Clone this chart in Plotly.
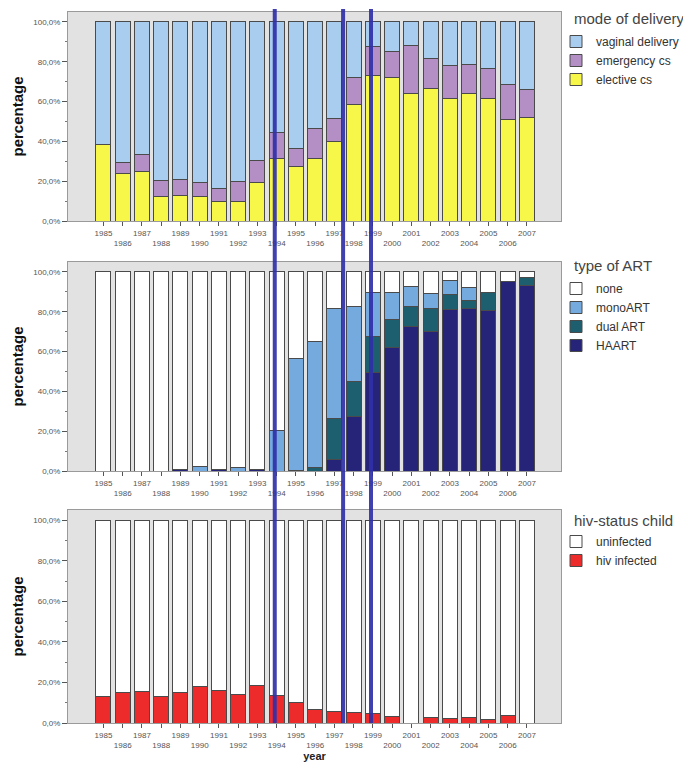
import plotly.graph_objects as go

years = list(range(1985, 2008))

# mode of delivery (%)
elective_cs = [38.6, 23.8, 25.0, 12.2, 12.6, 12.2, 9.7, 9.7, 19.5, 31.2, 27.2, 31.2,
               39.8, 58.7, 73.2, 72.1, 63.9, 66.4, 61.7, 64.3, 61.7, 50.8, 52.0]
emergency_cs = [0.0, 5.4, 8.6, 8.3, 8.5, 6.9, 6.7, 9.9, 11.0, 13.3, 9.0, 15.1,
                11.5, 13.4, 14.6, 13.1, 24.4, 15.0, 16.3, 14.4, 15.0, 17.8, 13.9]
vaginal_delivery = [round(100 - a - b, 1) for a, b in zip(elective_cs, emergency_cs)]

# type of ART (%)
haart = [0, 0, 0, 0, 0.6, 0, 1.0, 0, 1.0, 0, 0, 0,
         5.9, 27.6, 49.6, 61.8, 72.8, 70.3, 81.2, 81.8, 80.7, 95.3, 93.3]
dual_art = [0, 0, 0, 0, 0, 0, 0, 0, 0, 0, 0.5, 2.0,
            20.7, 17.4, 18.1, 14.3, 9.9, 11.5, 7.5, 3.9, 8.9, 0, 3.7]
mono_art = [0, 0, 0, 0, 0, 2.5, 0, 2.0, 0, 20.5, 56.1, 63.0,
            54.9, 37.7, 21.9, 13.5, 10.1, 7.6, 7.1, 6.4, 0, 0, 0]
no_art = [round(100 - a - b - c, 1) for a, b, c in zip(haart, dual_art, mono_art)]

# hiv-status child (%)
hiv_infected = [12.9, 14.9, 15.3, 13.2, 15.0, 18.2, 15.8, 14.0, 18.5, 13.7, 10.2, 6.9,
                5.9, 5.4, 4.6, 3.3, 0.0, 2.6, 2.0, 2.5, 1.6, 3.5, 0.0]
uninfected = [round(100 - a, 1) for a in hiv_infected]

marker_years = [1993.9, 1997.45, 1998.9]
legend_titles = ["mode of delivery", "type of ART", "hiv-status child"]

# page body has an 8px margin: figure drawn at (8, 8)
OFF = 8
W, H = 691 - OFF, 771 - OFF
L, R = 68 - OFF, W - (561 - OFF)
PW = W - L - R
panels_px = [(12, 221), (262, 471), (510, 723)]  # reference top/bottom of gray plot areas
domains = [[1 - (b - OFF) / H, 1 - (t - OFF) / H] for t, b in panels_px]

def px_x(x):
    return (x - OFF - L) / PW

def px_y(y):
    return 1 - (y - OFF) / H

FONT = "Liberation Sans, Arial, sans-serif"
EDGE = "#4a4a4a"

fig = go.Figure()

def add_bar(name, vals, color, ax, leg):
    fig.add_trace(go.Bar(
        x=years, y=vals, name=name, width=0.78,
        marker=dict(color=color, line=dict(color=EDGE, width=1)),
        xaxis=ax[0], yaxis=ax[1], legend=leg,
        hovertemplate="%{x}: %{y:.1f}%<extra>" + name + "</extra>",
    ))

add_bar("elective cs", elective_cs, "#f7f74a", ("x", "y"), "legend")
add_bar("emergency cs", emergency_cs, "#b48fc6", ("x", "y"), "legend")
add_bar("vaginal delivery", vaginal_delivery, "#a8cdee", ("x", "y"), "legend")

add_bar("HAART", haart, "#252478", ("x2", "y2"), "legend2")
add_bar("dual ART", dual_art, "#1d5f6e", ("x2", "y2"), "legend2")
add_bar("monoART", mono_art, "#74aade", ("x2", "y2"), "legend2")
add_bar("none", no_art, "#ffffff", ("x2", "y2"), "legend2")

add_bar("hiv infected", hiv_infected, "#ee2b2b", ("x3", "y3"), "legend3")
add_bar("uninfected", uninfected, "#ffffff", ("x3", "y3"), "legend3")

ticktext = [str(y) if y % 2 == 1 else "<br>" + str(y) for y in years]

axis_common = dict(
    range=[1983.16, 2008.77], tickvals=years, ticktext=ticktext, tickangle=0,
    ticks="outside", ticklen=4, tickcolor="#555", tickwidth=1,
    tickfont=dict(family=FONT, size=8, color="#555"),
    showgrid=False, zeroline=False, showline=True, linecolor="#9a9a9a",
    linewidth=1, mirror=True, automargin=False,
)
yaxis_common = dict(
    range=[0, 105], tickvals=[0, 20, 40, 60, 80, 100],
    ticktext=["0,0%", "20,0%", "40,0%", "60,0%", "80,0%", "100,0%"],
    ticks="outside", ticklen=5, tickcolor="#555",
    minor=dict(ticks="outside", ticklen=2, dtick=10, tickcolor="#777"),
    tickfont=dict(family=FONT, size=8, color="#555"),
    showgrid=False, zeroline=False, showline=True, linecolor="#9a9a9a",
    linewidth=1, mirror=True, automargin=False,
    title=dict(text="<b>percentage</b>", font=dict(family=FONT, size=15, color="#111"), standoff=6),
)

layout = dict(
    width=W, height=H, template="none",
    margin=dict(l=L, r=R, t=0, b=0),
    paper_bgcolor="white", plot_bgcolor="#e2e2e2",
    barmode="stack", bargap=0.22,
    font=dict(family=FONT, color="#333"),
)
names = ["", "2", "3"]
for i, n in enumerate(names):
    xa = dict(axis_common, anchor="y" + n, domain=[0, 1])
    if n:
        xa["matches"] = "x"
    ya = dict(yaxis_common, anchor="x" + n, domain=domains[i])
    layout["xaxis" + n] = xa
    layout["yaxis" + n] = ya
layout["xaxis3"]["title"] = dict(text="<b>year</b>", font=dict(family=FONT, size=11, color="#222"), standoff=2)

legend_common = dict(
    x=px_x(556), xanchor="left", yanchor="top",
    bgcolor="rgba(0,0,0,0)", traceorder="reversed",
    font=dict(family=FONT, size=12, color="#333"),
    itemwidth=30, tracegroupgap=0,
)
legend_item_tops = [27, 274, 527]
title_centers = [18, 265, 520]
annotations = []
for n, top, tc, title in zip(["legend", "legend2", "legend3"], legend_item_tops, title_centers, legend_titles):
    layout[n] = dict(legend_common, y=px_y(top))
    annotations.append(dict(text=title, xref="paper", yref="paper", x=px_x(572), y=px_y(tc),
                            xanchor="left", yanchor="middle", showarrow=False,
                            font=dict(family=FONT, size=15, color="#444")))
layout["annotations"] = annotations

fig.update_layout(**layout)

# long tick marks for the even years (labels in the lower row)
shapes = []
for i, n in enumerate(names):
    for y in years:
        if y % 2 == 0:
            shapes.append(dict(type="line", xref="x" + n, yref="y" + n,
                               x0=y, x1=y, ysizemode="pixel", yanchor=0,
                               y0=0, y1=-13, line=dict(color="#555", width=1)))
# blue marker lines across the three panels
for xm in marker_years:
    shapes.append(dict(type="line", xref="x", yref="paper", x0=xm, x1=xm,
                       y0=px_y(723), y1=px_y(9),
                       line=dict(color="rgba(48,48,168,0.92)", width=4)))
fig.update_layout(shapes=shapes)

fig.write_html("out.html")
